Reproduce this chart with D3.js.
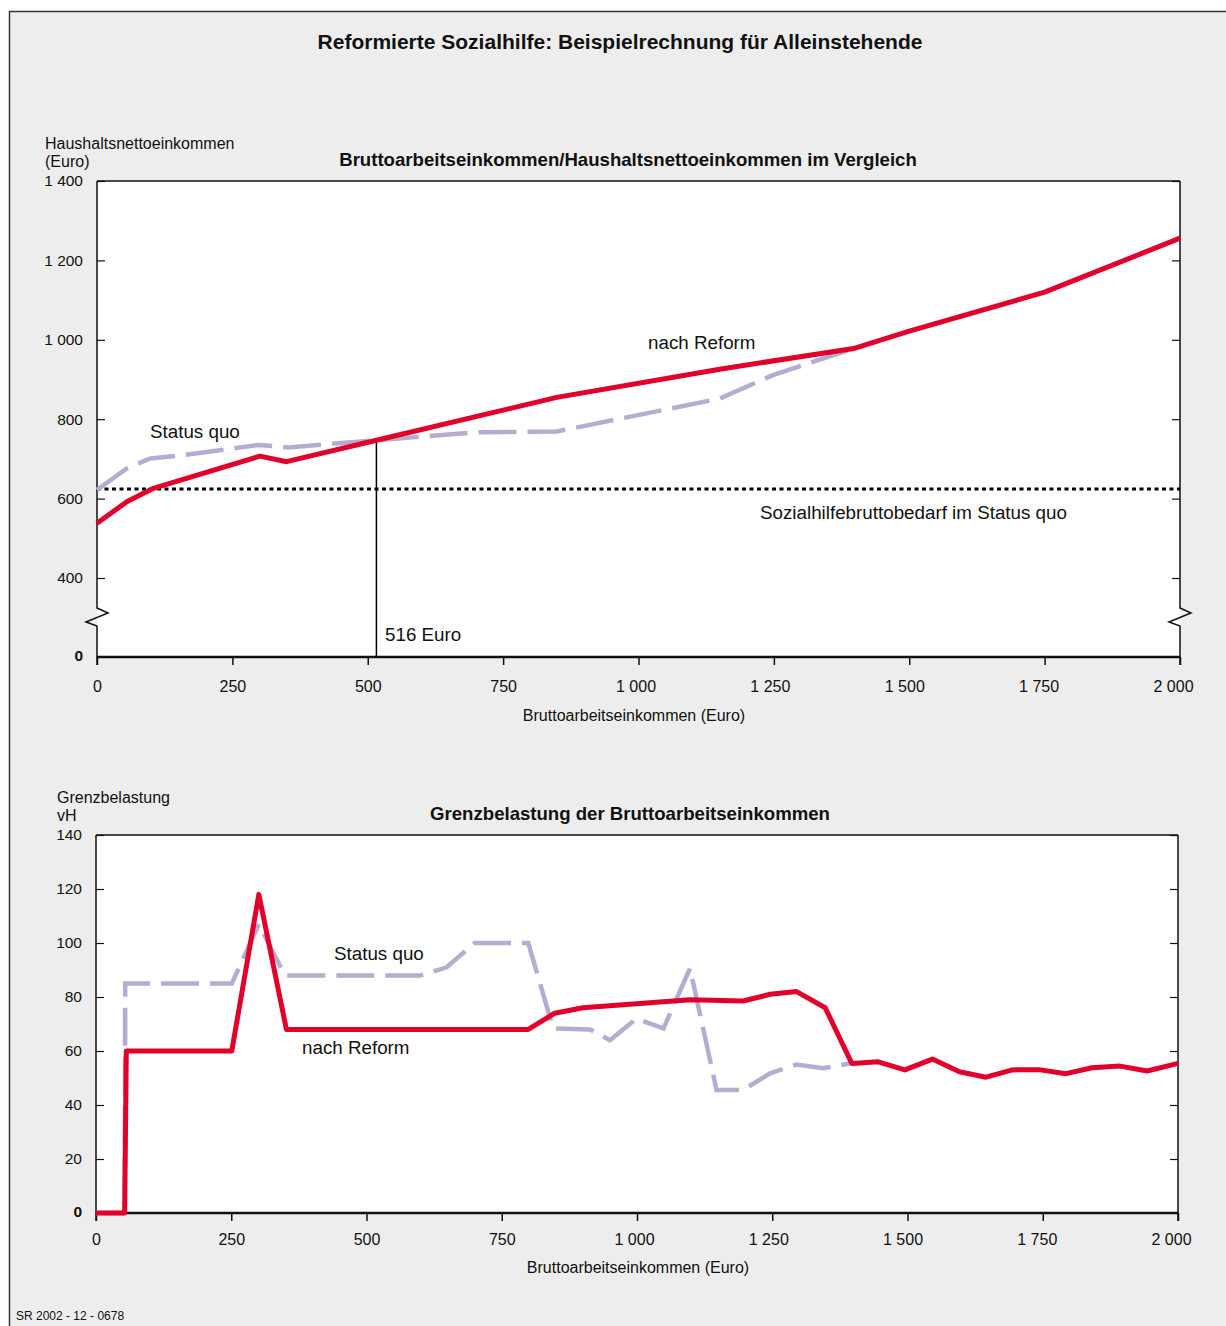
<!DOCTYPE html>
<meta charset="utf-8" />
<style>
  body { margin: 0; background: #fff; }
  text { font-family: "Liberation Sans", Arial, sans-serif; fill: #111; }
  .tick text { font-size: 16px; }
  .title { font-weight: bold; }
</style>
<svg width="1226" height="1326"></svg>
<script src="https://d3js.org/d3.v7.min.js"></script>
<script>
  // x ticks, shared
  var xTicks = [0, 250, 500, 750, 1000, 1250, 1500, 1750, 2000];

  // top chart: Haushaltsnettoeinkommen (Euro) over Bruttoarbeitseinkommen (Euro)
  var netYTicks = [0, 400, 600, 800, 1000, 1200, 1400];
  var netReform = [[0, 538], [55, 592], [104, 626], [301, 707], [350, 693], [516, 747],
    [849, 855], [1150, 926], [1397, 978], [1500, 1022], [1750, 1120], [2000, 1256]];
  var netStatusQuo = [[0, 622], [55, 676], [98, 701], [162, 710], [298, 735], [353, 729],
    [516, 747], [700, 767], [849, 769], [1150, 852], [1248, 911], [1397, 978]];
  var sozialhilfeBedarf = 624;
  var breakEven = 516;

  // bottom chart: Grenzbelastung vH
  var gbYTicks = [0, 20, 40, 60, 80, 100, 120, 140];
  var gbReform = [[0, 0], [53, 0], [56, 60], [251, 60], [301, 118], [352, 68], [799, 68],
    [848, 74], [900, 76], [1098, 79], [1196, 78.5], [1246, 81], [1295, 82], [1348, 76],
    [1397, 55.4], [1446, 56], [1495, 53], [1546, 57], [1596, 52.3], [1645, 50.3], [1694, 53],
    [1743, 53.1], [1793, 51.6], [1841, 53.8], [1893, 54.4], [1943, 52.6], [2000, 55.4]];
  var gbStatusQuo = [[0, 0], [53, 0], [54, 85], [251, 85], [301, 107], [349, 88], [600, 88],
    [648, 91], [700, 100], [799, 100], [845, 68.4], [913, 68], [950, 64], [999, 72],
    [1049, 68.4], [1098, 90.6], [1147, 45.6], [1196, 45.6], [1246, 51.7], [1295, 55],
    [1344, 53.6], [1393, 55.4]];

  var RED = "#e2002b", LILA = "#b6acd2";
  var fmt = d3.formatLocale({ decimal: ",", thousands: "\u00a0", grouping: [3], currency: ["", ""] }).format(",");

  var svg = d3.select("svg");

  // outer frame
  svg.append("rect").attr("x", 9.5).attr("y", 11.5).attr("width", 1240).attr("height", 1340)
    .attr("fill", "#ededed").attr("stroke", "#333").attr("stroke-width", 1.5);

  svg.append("text").attr("class", "title").attr("x", 620).attr("y", 49)
    .attr("text-anchor", "middle").style("font-size", "21px")
    .text("Reformierte Sozialhilfe: Beispielrechnung für Alleinstehende");

  svg.append("text").attr("x", 16).attr("y", 1320).style("font-size", "12px")
    .text("SR 2002 - 12 - 0678");

  function chart(o) {
    var g = svg.append("g");
    var x = d3.scaleLinear().domain([0, 2000]).range([o.left, o.right]);
    var y = o.y;

    g.append("rect").attr("x", o.left).attr("y", o.top)
      .attr("width", o.right - o.left).attr("height", o.bottom - o.top).attr("fill", "#fff");

    // x axis
    var xa = g.append("g").attr("transform", "translate(0," + o.bottom + ")")
      .call(d3.axisBottom(x).tickValues(xTicks).tickFormat(fmt).tickSize(8).tickSizeOuter(0).tickPadding(o.xPad));
    xa.select(".domain").remove();
    xa.selectAll("line").attr("stroke", "#111").attr("stroke-width", 1.5);
    xa.selectAll("text").attr("dx", d => d >= 1000 ? -3 - (d - 1000) / 250 : 0);

    // y axes, inner ticks
    var ya = g.append("g").attr("transform", "translate(" + o.left + ",0)")
      .call(d3.axisLeft(y).tickValues(o.yTicks).tickFormat(fmt).tickSize(-8).tickPadding(14));
    ya.select(".domain").remove();
    ya.selectAll("text").style("font-size", "15.5px");
    ya.selectAll("line").attr("stroke", "#111").attr("stroke-width", 1.2);
    ya.selectAll(".tick").filter(d => d === 0).select("line").remove();
    ya.selectAll(".tick").filter(d => d === 0).select("text").style("font-weight", "bold").attr("dy", "0.2em");

    var yr = g.append("g").attr("transform", "translate(" + o.right + ",0)")
      .call(d3.axisRight(y).tickValues(o.yTicks.filter(d => d > 0)).tickFormat("").tickSize(-8));
    yr.select(".domain").remove();
    yr.selectAll("line").attr("stroke", "#111").attr("stroke-width", 1.2);

    // frame lines
    var ax = g.append("g").attr("fill", "none").attr("stroke", "#111").attr("stroke-width", 1.5);
    ax.append("line").attr("x1", o.left).attr("x2", o.right).attr("y1", o.top).attr("y2", o.top);
    ax.append("line").attr("x1", o.left).attr("x2", o.right).attr("y1", o.bottom).attr("y2", o.bottom)
      .attr("stroke-width", 2.5);
    [o.left, o.right].forEach(function (px) {
      if (o.breakY) {
        var b = o.breakY;
        ax.append("path").attr("d", d3.line()([[px, o.top], [px, b - 5], [px + 11, b], [px - 11, b + 9],
          [px, b + 13], [px, o.bottom + 8]]));
      } else {
        ax.append("line").attr("x1", px).attr("x2", px).attr("y1", o.top).attr("y2", o.bottom + 8);
      }
    });

    g.append("text").attr("class", "title").attr("x", o.titleX).attr("y", o.top - 15)
      .attr("text-anchor", "middle").style("font-size", "18.6px").text(o.title);
    o.yLabel.forEach(function (t, i) {
      g.append("text").attr("x", o.yLabelX).attr("y", o.top - 32 + i * 18).style("font-size", "16px").text(t);
    });
    g.append("text").attr("x", o.xLabelX).attr("y", o.bottom + o.xLabelDy).attr("text-anchor", "middle")
      .style("font-size", "16px").text("Bruttoarbeitseinkommen (Euro)");

    var line = d3.line().x(d => x(d[0])).y(d => y(d[1]));
    var plot = g.append("g");
    o.extra && o.extra(plot, x, y);
    plot.append("path").datum(o.sq).attr("d", line).attr("fill", "none").attr("stroke", LILA)
      .attr("stroke-width", 4.5).attr("stroke-dasharray", "38 11");
    plot.append("path").datum(o.reform).attr("d", line).attr("fill", "none").attr("stroke", RED)
      .attr("stroke-width", 5).attr("stroke-linejoin", "round");
    o.labels.forEach(function (l) {
      g.append("text").attr("x", l[0]).attr("y", l[1]).style("font-size", "18.8px").text(l[2]);
    });
  }

  chart({
    left: 97, right: 1180, top: 181, bottom: 657, breakY: 613, xPad: 16, xLabelDy: 64,
    y: d3.scaleLinear().domain([0, 400, 1400]).range([657, 578, 181]),
    yTicks: netYTicks, reform: netReform, sq: netStatusQuo,
    title: "Bruttoarbeitseinkommen/Haushaltsnettoeinkommen im Vergleich", titleX: 628,
    yLabel: ["Haushaltsnettoeinkommen", "(Euro)"], yLabelX: 45, xLabelX: 634,
    labels: [[150, 438, "Status quo"], [648, 349, "nach Reform"],
      [760, 519, "Sozialhilfebruttobedarf im Status quo"], [385, 641, "516 Euro"]],
    extra: function (p, x, y) {
      p.append("line").attr("x1", x(0)).attr("x2", x(2000))
        .attr("y1", y(sozialhilfeBedarf)).attr("y2", y(sozialhilfeBedarf))
        .attr("stroke", "#000").attr("stroke-width", 3).attr("stroke-dasharray", "4 3.5");
      p.append("line").attr("x1", x(breakEven)).attr("x2", x(breakEven))
        .attr("y1", y(747)).attr("y2", y(0)).attr("stroke", "#000").attr("stroke-width", 1.5);
    }
  });

  chart({
    left: 96, right: 1178, top: 835, bottom: 1213, xPad: 13, xLabelDy: 60,
    y: d3.scaleLinear().domain([0, 140]).range([1213, 835]),
    yTicks: gbYTicks, reform: gbReform, sq: gbStatusQuo,
    title: "Grenzbelastung der Bruttoarbeitseinkommen", titleX: 630,
    yLabel: ["Grenzbelastung", "vH"], yLabelX: 57, xLabelX: 638,
    labels: [[334, 960, "Status quo"], [302, 1054, "nach Reform"]]
  });
</script>
